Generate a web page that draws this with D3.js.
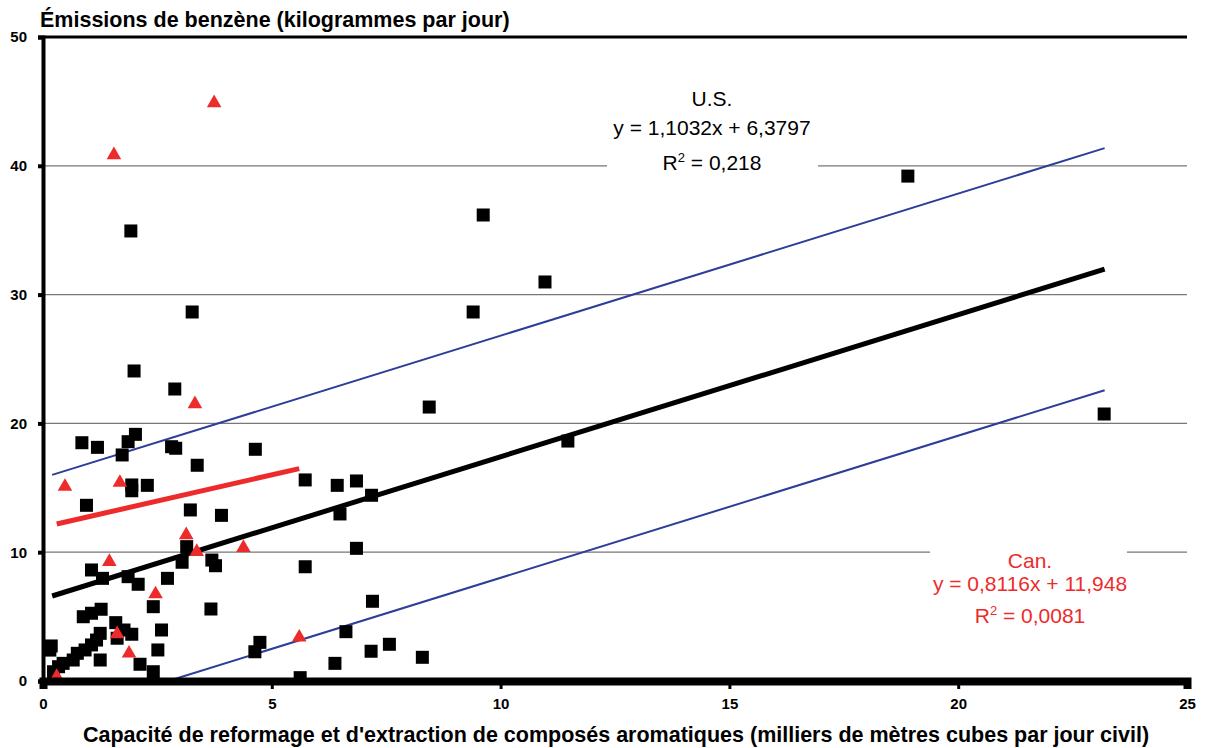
<!DOCTYPE html>
<html><head><meta charset="utf-8">
<script src="https://cdn.jsdelivr.net/npm/d3@7"></script>
<style>
body{margin:0;background:#fff;}
svg text{font-family:"Liberation Sans",Arial,sans-serif;}
</style></head>
<body><svg id="c" width="1212" height="748"></svg>
<script>
// ---- data ----
const usPoints = [
 [23.19,20.73],[18.90,39.2],[9.62,36.18],[10.97,30.98],[9.40,28.65],[8.44,21.27],[11.47,18.63],
 [1.92,34.94],[3.26,28.65],[1.99,24.07],[2.88,22.67],
 [0.85,18.50],[1.19,18.14],[1.86,18.58],[2.02,19.15],[1.73,17.55],[2.81,18.19],[2.90,18.07],
 [4.64,17.99],[3.37,16.75],[1.94,15.22],[1.94,14.77],[2.28,15.19],[0.95,13.64],[3.22,13.28],[3.90,12.86],
 [5.73,15.61],[6.43,15.19],[6.85,15.53],[7.18,14.42],[6.49,12.97],[6.85,10.30],[5.73,8.87],
 [7.20,6.19],[6.62,3.83],[7.17,2.31],[7.57,2.85],[8.29,1.84],[6.38,1.37],[5.62,0.26],
 [3.14,10.43],[3.04,9.22],[3.69,9.39],[3.77,8.95],[1.06,8.62],[1.30,7.97],[1.86,8.10],[2.08,7.51],[2.72,7.97],
 [2.41,5.77],[0.88,4.99],[1.06,5.26],[1.27,5.57],[3.67,5.59],[1.59,4.53],[1.77,3.96],[1.94,3.63],[1.62,3.32],
 [2.59,3.96],[1.25,3.70],[1.17,3.18],[1.06,2.80],[0.92,2.41],[0.75,2.15],[0.66,1.63],[1.25,1.63],
 [0.18,2.72],[0.15,2.40],[2.51,2.41],[2.12,1.30],[0.44,1.37],[0.34,1.11],[0.23,0.72],[2.41,0.72],
 [4.74,3.00],[4.63,2.27]
];
const canPoints = [
 [3.74,44.88],[1.55,40.84],[3.32,21.51],[0.48,15.09],[1.68,15.40],[3.13,11.34],[3.36,10.04],[4.38,10.35],
 [1.45,9.26],[2.46,6.75],[1.62,3.65],[1.88,2.15],[5.60,3.39],[0.30,0.33]
];
const usFit = {slope:1.1032, intercept:6.3797, x0:0.2, x1:23.2};
const usBand = 9.4;
const canFit = {slope:0.8116, intercept:11.948, x0:0.3, x1:5.6};
const xTicks = [0,5,10,15,20,25];
const yTicks = [0,10,20,30,40,50];
const usLabel = ["U.S.","y = 1,1032x + 6,3797","R","2"," = 0,218"];
const canLabel = ["Can.","y = 0,8116x + 11,948","R","2"," = 0,0081"];
const yTitle = "Émissions de benzène (kilogrammes par jour)";
const xTitle = "Capacité de reformage et d'extraction de composés aromatiques (milliers de mètres cubes par jour civil)";

// ---- chart ----
const svg = d3.select("#c");
const x = d3.scaleLinear().domain([0,25]).range([43,1187]);
const y = d3.scaleLinear().domain([0,50]).range([681,37]);
const RED = "#ee2b2b", BLUE = "#2e3e98";

// gridlines
svg.append("g").selectAll("line").data(yTicks.filter(d=>d>0&&d<50)).join("line")
  .attr("x1",x(0)).attr("x2",x(25)).attr("y1",d=>y(d)).attr("y2",d=>y(d))
  .attr("stroke","#777").attr("stroke-width",1.2);

// label boxes (white, interrupt gridlines)
svg.append("rect").attr("x",607).attr("y",150).attr("width",211).attr("height",30).attr("fill","#fff");
svg.append("rect").attr("x",930).attr("y",538).attr("width",197).attr("height",28).attr("fill","#fff");

// fit lines
const fitLine = (f, off) => {
  let xa = f.x0;
  const yAt = v => f.slope*v + f.intercept + off;
  if (yAt(xa) < 0) xa = -(f.intercept+off)/f.slope;
  return [[xa,yAt(xa)],[f.x1,yAt(f.x1)]];
};
const line = d3.line().x(d=>x(d[0])).y(d=>y(d[1]));
svg.append("path").attr("d",line(fitLine(usFit,usBand))).attr("stroke",BLUE).attr("stroke-width",2).attr("fill","none");
svg.append("path").attr("d",line(fitLine(usFit,-usBand))).attr("stroke",BLUE).attr("stroke-width",2).attr("fill","none");

// US squares
const sq = 13;
svg.append("g").selectAll("rect").data(usPoints).join("rect")
  .attr("x",d=>x(d[0])-sq/2).attr("y",d=>y(d[1])-sq/2).attr("width",sq).attr("height",sq).attr("fill","#000");

svg.append("path").attr("d",line(fitLine(usFit,0))).attr("stroke","#000").attr("stroke-width",5).attr("fill","none");
svg.append("path").attr("d",line(fitLine(canFit,0))).attr("stroke",RED).attr("stroke-width",5).attr("fill","none");

// Can triangles
const tri = d3.symbol().type(d3.symbolTriangle).size(92);
svg.append("g").selectAll("path").data(canPoints).join("path")
  .attr("d",tri).attr("transform",d=>`translate(${x(d[0])},${y(d[1])})`).attr("fill",RED);

// axes
const yAxis = d3.axisLeft(y).tickValues(yTicks).tickSize(5).tickPadding(11).tickFormat(d3.format("d"));
const gy = svg.append("g").attr("transform",`translate(${x(0)},0)`).call(yAxis);
gy.select(".domain").attr("stroke","#000").attr("stroke-width",4);
gy.selectAll(".tick line").attr("stroke","#000").attr("stroke-width",4);
gy.selectAll(".tick text").attr("font-size",15).attr("font-weight","bold").attr("fill","#000")
  .style("font-family","'Liberation Sans',Arial,sans-serif");

const xAxis = d3.axisBottom(x).tickValues(xTicks).tickSize(8).tickPadding(9).tickFormat(d3.format("d"));
const gx = svg.append("g").attr("transform",`translate(0,${y(0)})`).call(xAxis);
gx.select(".domain").attr("stroke","#000").attr("stroke-width",8);
gx.selectAll(".tick line").attr("stroke","#000").attr("stroke-width",3);
gx.selectAll(".tick text").attr("font-size",15).attr("font-weight","bold").attr("fill","#000")
  .style("font-family","'Liberation Sans',Arial,sans-serif");

// top frame line
svg.append("line").attr("x1",x(0)).attr("x2",x(25)).attr("y1",y(50)).attr("y2",y(50))
  .attr("stroke","#000").attr("stroke-width",3);

// titles
svg.append("text").attr("x",40).attr("y",27).attr("font-size",21.5).attr("font-weight","bold").text(yTitle);
svg.append("text").attr("x",616).attr("y",742).attr("text-anchor","middle").attr("font-size",21.5).attr("font-weight","bold").text(xTitle);

// annotation labels
function label(cx, ys, lab, color){
  const g = svg.append("g").attr("fill",color).attr("font-size",21).attr("text-anchor","middle");
  g.append("text").attr("x",cx).attr("y",ys[0]).text(lab[0]);
  g.append("text").attr("x",cx).attr("y",ys[1]).text(lab[1]);
  const t = g.append("text").attr("x",cx).attr("y",ys[2]);
  t.append("tspan").text(lab[2]);
  t.append("tspan").attr("dy",-8).attr("font-size",13).text(lab[3]);
  t.append("tspan").attr("dy",8).text(lab[4]);
}
label(712,[106,135,170],usLabel,"#000");
label(1030,[568,591,623],canLabel,RED);
</script></body></html>
